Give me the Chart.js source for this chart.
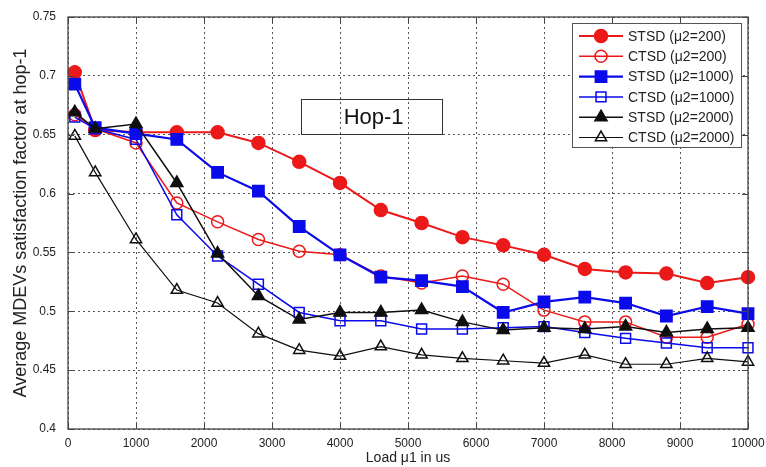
<!DOCTYPE html>
<html>
<head>
<meta charset="utf-8">
<script src="https://cdn.jsdelivr.net/npm/chart.js@4.4.1/dist/chart.umd.min.js"></script>
<style>
html,body{margin:0;padding:0;background:#fff;}
#wrap{width:766px;height:467px;}
</style>
</head>
<body>
<div id="wrap"><canvas id="myChart" width="766" height="467"></canvas></div>
<script>
// load values on the x axis (us)
var loads = [100,400,1000,1600,2200,2800,3400,4000,4600,5200,5800,6400,7000,7600,8200,8800,9400,10000];

var stsd200  = [0.703,0.654,0.652,0.652,0.652,0.643,0.627,0.609,0.586,0.575,0.563,0.556,0.548,0.536,0.533,0.532,0.524,0.529];
var ctsd200  = [0.667,0.655,0.643,0.592,0.576,0.561,0.551,0.548,0.530,0.524,0.530,0.523,0.501,0.491,0.491,0.478,0.478,0.489];
var stsd1000 = [0.693,0.656,0.651,0.646,0.618,0.602,0.572,0.548,0.529,0.526,0.521,0.499,0.508,0.512,0.507,0.496,0.504,0.498];
var ctsd1000 = [0.665,0.655,0.646,0.582,0.547,0.523,0.499,0.492,0.492,0.485,0.485,0.486,0.487,0.482,0.477,0.473,0.469,0.469];
var stsd2000 = [0.669,0.655,0.659,0.609,0.549,0.513,0.493,0.499,0.499,0.501,0.491,0.484,0.486,0.485,0.487,0.482,0.485,0.486];
var ctsd2000 = [0.649,0.618,0.561,0.518,0.507,0.481,0.467,0.462,0.470,0.463,0.460,0.458,0.456,0.463,0.455,0.455,0.460,0.457];

var seriesNames = ['STSD (\u03bc2=200)','CTSD (\u03bc2=200)','STSD (\u03bc2=1000)','CTSD (\u03bc2=1000)','STSD (\u03bc2=2000)','CTSD (\u03bc2=2000)'];

var xTicks = [0,1000,2000,3000,4000,5000,6000,7000,8000,9000,10000];
var yTicks = [0.4,0.45,0.5,0.55,0.6,0.65,0.7,0.75];

var xTitle = 'Load \u03bc1 in us';
var yTitle = 'Average MDEVs satisfaction factor at hop-1';
var boxText = 'Hop-1';
// text box corners in data units
var boxX = [3430, 5500];
var boxY = [0.65, 0.68];

var FONT = "'Liberation Sans', Arial, sans-serif";
var RED = 'rgb(235,25,25)';
var BLUE = 'rgb(10,10,235)';
var BLACK = 'rgb(15,15,15)';

function pts(vals) {
  var out = [];
  for (var i = 0; i < loads.length; i++) {
    out.push({x: loads[i], y: vals[i]});
  }
  return out;
}

function series(i, vals, color, style, radius, filled, width) {
  return {
    label: seriesNames[i],
    data: pts(vals),
    borderColor: color,
    backgroundColor: color,
    borderWidth: width,
    pointStyle: style,
    pointRadius: radius,
    pointHoverRadius: radius,
    pointBorderWidth: 1.5,
    pointBorderColor: color,
    pointBackgroundColor: filled ? color : 'rgba(0,0,0,0)',
    tension: 0,
    clip: false,
    order: 5 - i
  };
}

var hopBox = {
  id: 'hopBox',
  afterDatasetsDraw: function(chart) {
    var ctx = chart.ctx, xs = chart.scales.x, ys = chart.scales.y;
    var x0 = xs.getPixelForValue(boxX[0]), x1 = xs.getPixelForValue(boxX[1]);
    var y0 = ys.getPixelForValue(boxY[1]), y1 = ys.getPixelForValue(boxY[0]);
    ctx.save();
    ctx.strokeStyle = '#333';
    ctx.lineWidth = 1;
    ctx.strokeRect(Math.round(x0) + 0.5, Math.round(y0) + 0.5, Math.round(x1 - x0), Math.round(y1 - y0));
    ctx.fillStyle = '#111';
    ctx.font = '22px ' + FONT;
    ctx.textAlign = 'center';
    ctx.textBaseline = 'middle';
    ctx.fillText(boxText, (x0 + x1) / 2 + 2, (y0 + y1) / 2 + 1);
    ctx.restore();
  }
};

var frame = {
  id: 'frame',
  afterDraw: function(chart) {
    var ctx = chart.ctx, a = chart.chartArea, xs = chart.scales.x, ys = chart.scales.y;
    ctx.save();
    ctx.strokeStyle = '#444';
    ctx.lineWidth = 1.3;
    ctx.strokeRect(a.left, a.top, a.right - a.left, a.bottom - a.top);
    ctx.lineWidth = 1;
    ctx.beginPath();
    for (var i = 0; i < xTicks.length; i++) {
      var x = Math.round(xs.getPixelForValue(xTicks[i])) + 0.5;
      ctx.moveTo(x, a.bottom); ctx.lineTo(x, a.bottom - 6);
      ctx.moveTo(x, a.top); ctx.lineTo(x, a.top + 6);
    }
    for (var j = 0; j < yTicks.length; j++) {
      var y = Math.round(ys.getPixelForValue(yTicks[j])) + 0.5;
      ctx.moveTo(a.left, y); ctx.lineTo(a.left + 6, y);
      ctx.moveTo(a.right, y); ctx.lineTo(a.right - 6, y);
    }
    ctx.stroke();
    ctx.restore();
  }
};

var legendBox = {
  id: 'legendBox',
  afterDraw: function(chart) {
    var ctx = chart.ctx, a = chart.chartArea;
    var w = 169, h = 124;
    var left = a.right - 7 - w, top = a.top + 6;
    ctx.save();
    ctx.fillStyle = '#fff';
    ctx.fillRect(left, top, w, h);
    ctx.strokeStyle = '#555';
    ctx.lineWidth = 1;
    ctx.strokeRect(left + 0.5, top + 0.5, w, h);
    var sets = chart.data.datasets;
    for (var i = 0; i < sets.length; i++) {
      var ds = sets[i];
      var y = top + 13 + i * 20.3;
      ctx.strokeStyle = ds.borderColor;
      ctx.lineWidth = ds.borderWidth;
      ctx.beginPath();
      ctx.moveTo(left + 7, y);
      ctx.lineTo(left + 51, y);
      ctx.stroke();
      ctx.fillStyle = ds.pointBackgroundColor;
      ctx.strokeStyle = ds.pointBorderColor;
      ctx.lineWidth = ds.pointBorderWidth;
      Chart.helpers.drawPoint(ctx, {pointStyle: ds.pointStyle, radius: ds.pointRadius, borderWidth: ds.pointBorderWidth, rotation: 0}, left + 29, y);
      ctx.fillStyle = '#222';
      ctx.font = '14px ' + FONT;
      ctx.textAlign = 'left';
      ctx.textBaseline = 'middle';
      ctx.fillText(ds.label, left + 56, y + 1);
    }
    ctx.restore();
  }
};

var ctx = document.getElementById('myChart').getContext('2d');
var chart = new Chart(ctx, {
  type: 'line',
  data: {
    datasets: [
      series(0, stsd200, RED, 'circle', 6.5, true, 2),
      series(1, ctsd200, RED, 'circle', 6, false, 1.5),
      series(2, stsd1000, BLUE, 'rect', 8, true, 2.2),
      series(3, ctsd1000, BLUE, 'rect', 7, false, 1.5),
      series(4, stsd2000, BLACK, 'triangle', 7, true, 1.5),
      series(5, ctsd2000, BLACK, 'triangle', 6.5, false, 1.2)
    ]
  },
  options: {
    responsive: false,
    animation: false,
    devicePixelRatio: 1,
    layout: {padding: {left: 0, top: 17, right: 18, bottom: 0}},
    plugins: {legend: {display: false}, tooltip: {enabled: false}},
    scales: {
      x: {
        type: 'linear',
        min: 0,
        max: 10000,
        afterBuildTicks: function(s) { s.ticks = xTicks.map(function(v) { return {value: v}; }); },
        afterFit: function(s) { s.height = 38; s.paddingLeft = 0; s.paddingRight = 0; },
        grid: {color: '#555', lineWidth: 1, drawTicks: false},
        border: {display: false, dash: [2, 3]},
        ticks: {padding: 7, color: '#222', font: {family: FONT, size: 12}, maxRotation: 0, autoSkip: false,
                callback: function(v) { return String(v); }},
        title: {display: true, text: xTitle, color: '#222', font: {family: FONT, size: 14}, padding: {top: 0, bottom: 0}}
      },
      y: {
        type: 'linear',
        min: 0.4,
        max: 0.75,
        afterBuildTicks: function(s) { s.ticks = yTicks.map(function(v) { return {value: v}; }); },
        afterFit: function(s) { s.width = 68; s.paddingTop = 0; s.paddingBottom = 0; },
        grid: {color: '#555', lineWidth: 1, drawTicks: false},
        border: {display: false, dash: [2, 3]},
        ticks: {padding: 12, color: '#222', font: {family: FONT, size: 12}, autoSkip: false,
                callback: function(v) { return String(v); }},
        title: {display: true, text: yTitle, color: '#222', font: {family: FONT, size: 18}, padding: {top: 10, bottom: 0}}
      }
    }
  },
  plugins: [hopBox, frame, legendBox]
});
</script>
</body>
</html>
